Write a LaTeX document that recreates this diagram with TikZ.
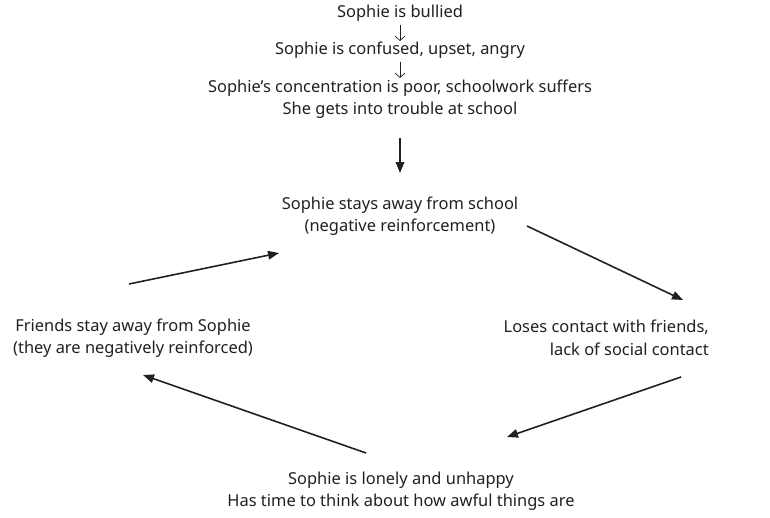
\documentclass[tikz,border=0pt]{standalone}
\usepackage{fontspec}
\setmainfont{Noto Sans}
\usetikzlibrary{arrows.meta}
\definecolor{ink}{HTML}{231F20}
\begin{document}
\begin{tikzpicture}[x=1bp,y=-1bp,
  txt/.style={inner sep=0pt, align=center, text=ink,
    font=\fontsize{16.5}{22.5}\selectfont},
  arr/.style={draw=ink, line width=1.6pt,
    -{Triangle[length=11pt,width=8.5pt]}},
  small/.style={draw=ink, line width=0.7pt,
    -{Straight Barb[length=4.5pt,width=10pt,line width=0.7pt]}}]
\useasboundingbox (0,0) rectangle (770,518);

% opening chain
\node[txt] (bullied) at (400,13) {Sophie is bullied};
\node[txt] (confused) at (400,50) {Sophie is confused, upset, angry};
\node[txt] (poor) at (400,99) {Sophie’s concentration is poor, schoolwork suffers\\She gets into trouble at school};

% the cycle
\node[txt] (away) at (400,216) {Sophie stays away from school\\(negative reinforcement)};
\node[txt, align=right, anchor=east] (loses) at (709,338) {Loses contact with friends,\\lack of social contact};
\node[txt] (lonely) at (401,491) {Sophie is lonely and unhappy\\Has time to think about how awful things are};
\node[txt] (friends) at (133,338) {Friends stay away from Sophie\\(they are negatively reinforced)};

% small arrows of the opening chain
\draw[small] ([shift={(0,12)}]bullied.center) -- ([shift={(0,-9)}]confused.center);
\draw[small] ([shift={(0,12)}]confused.center) -- ([shift={(0,-21)}]poor.center);

% heavy arrows
\draw[arr] ([shift={(0,39)}]poor.center) -- ([shift={(0,-43)}]away.center);
\draw[arr] ([shift={(127,10)}]away.center) -- ([shift={(-26,-38)}]loses.east);
\draw[arr] ([shift={(-28,39)}]loses.east) -- ([shift={(106,-54)}]lonely.center);
\draw[arr] ([shift={(-35,-38)}]lonely.center) -- ([shift={(10,37)}]friends.center);
\draw[arr] ([shift={(-4,-54)}]friends.center) -- ([shift={(-121,37)}]away.center);
\end{tikzpicture}
\end{document}
